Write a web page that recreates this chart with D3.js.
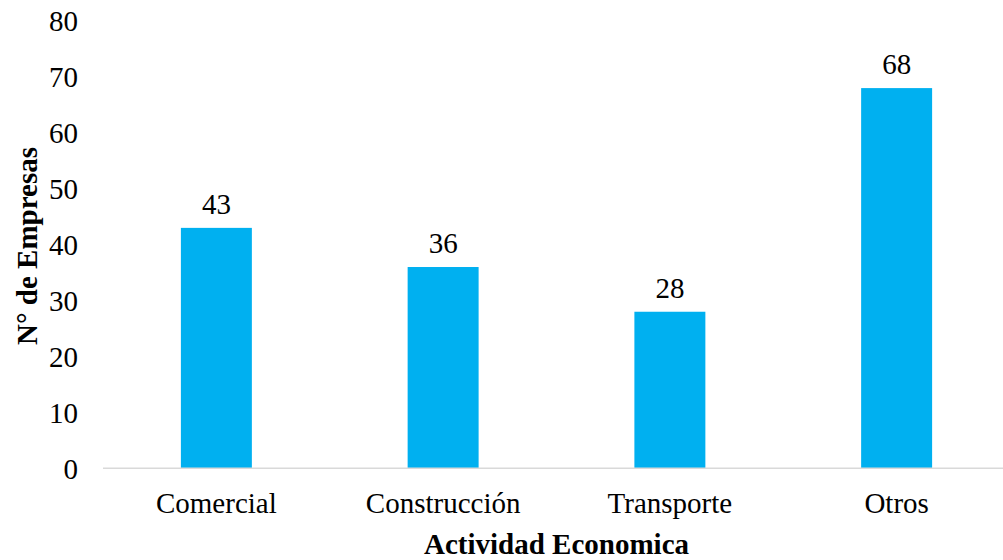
<!DOCTYPE html>
<html>
<head>
<meta charset="utf-8">
<script src="https://cdn.jsdelivr.net/npm/d3@7"></script>
<style>
  html, body { margin: 0; padding: 0; background: #fff; overflow: hidden; }
  svg { display: block; }
  text { font-family: "Liberation Serif", "Times New Roman", serif; fill: #000; }
</style>
</head>
<body>
<svg id="chart" width="1003" height="560"></svg>
<script>
// Empresas por actividad económica
const categories = ["Comercial", "Construcción", "Transporte", "Otros"];
const values = [43, 36, 28, 68];
const yTicks = [0, 10, 20, 30, 40, 50, 60, 70, 80];

const FONT = '"Liberation Serif", "Times New Roman", serif';
const svg = d3.select("#chart");
const W = 1003;
const plot = { left: 103, right: 1010, top: 21, bottom: 468.3 };

const x = d3.scaleBand()
  .domain(categories)
  .range([plot.left, plot.right])
  .padding(0);

const y = d3.scaleLinear()
  .domain([0, 80])
  .range([plot.bottom, plot.top]);

const barW = x.step() * 0.313;
const cx = c => x(c) + x.bandwidth() / 2;

// Bars
svg.append("g")
  .selectAll("rect")
  .data(values)
  .join("rect")
  .attr("x", (d, i) => cx(categories[i]) - barW / 2)
  .attr("y", d => y(d))
  .attr("width", barW)
  .attr("height", d => y(0) - y(d))
  .attr("fill", "#00B0F0");

// Baseline (category axis)
const gx = svg.append("g")
  .attr("transform", `translate(0,${y(0)})`)
  .call(d3.axisBottom(x).tickSize(0).tickFormat(() => ""));
gx.select(".domain")
  .attr("d", `M${plot.left},0H${W}`)
  .attr("stroke", "#d9d9d9")
  .attr("stroke-width", 1.6);

// Category labels
svg.append("g")
  .selectAll("text")
  .data(categories)
  .join("text")
  .attr("x", d => cx(d))
  .attr("y", 513)
  .attr("text-anchor", "middle")
  .style("font-family", FONT)
  .style("font-size", "29px")
  .text(d => d);

// Value axis (labels only)
const gy = svg.append("g")
  .attr("transform", "translate(78,0)")
  .call(d3.axisLeft(y).tickValues(yTicks).tickSize(0).tickPadding(0));
gy.select(".domain").remove();
gy.selectAll("text")
  .style("font-family", FONT)
  .style("font-size", "29px")
  .attr("fill", "#000")
  .attr("dy", "0.34em");

// Data labels
svg.append("g")
  .selectAll("text")
  .data(values)
  .join("text")
  .attr("x", (d, i) => cx(categories[i]))
  .attr("y", d => y(d) - 14)
  .attr("text-anchor", "middle")
  .style("font-family", FONT)
  .style("font-size", "29px")
  .text(d => d);

// Axis titles
svg.append("text")
  .attr("x", 556.5)
  .attr("y", 554)
  .attr("text-anchor", "middle")
  .style("font-family", FONT)
  .style("font-size", "29px")
  .style("font-weight", "bold")
  .text("Actividad Economica");

svg.append("text")
  .attr("transform", "translate(37,246) rotate(-90)")
  .attr("text-anchor", "middle")
  .style("font-family", FONT)
  .style("font-size", "29px")
  .style("font-weight", "bold")
  .text("N° de Empresas");
</script>
</body>
</html>
